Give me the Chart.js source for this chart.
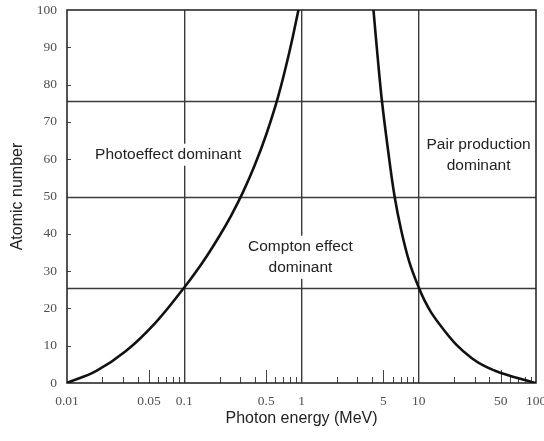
<!DOCTYPE html>
<html>
<head>
<meta charset="utf-8">
<script src="https://cdn.jsdelivr.net/npm/chart.js@4/dist/chart.umd.min.js"></script>
<style>
  html, body { margin: 0; padding: 0; background: #fff; }
  #wrap { width: 544px; height: 441px; position: relative; }
</style>
</head>
<body>
<div id="wrap"><canvas id="c"></canvas></div>
<script>
// photon energy (MeV) vs atomic number
const photoComptonE = [0.01, 0.0178, 0.0316, 0.0562, 0.1, 0.1259, 0.1585, 0.1995, 0.2512, 0.3162, 0.3981, 0.5012, 0.631, 0.7943, 0.942];
const photoComptonZ = [0, 3.25, 8.5, 16, 25.6, 29.8, 34.4, 39.4, 44.9, 51.1, 58.3, 66.7, 76.7, 89.2, 100];
const comptonPairE = [4.11, 4.467, 4.853, 5.495, 6.223, 7.079, 8.318, 10, 11.22, 12.82, 15.85, 20.89, 28.18, 35.48, 44.67, 56.23, 75.86, 100];
const comptonPairZ = [100, 87.2, 75.6, 62, 50, 41, 32.4, 25.6, 22.1, 18.8, 14.8, 10.3, 6.7, 4.7, 3.3, 2.2, 1.0, 0];

const xTicks = [0.01, 0.05, 0.1, 0.5, 1, 5, 10, 50, 100];
const xTickLabels = ['0.01', '0.05', '0.1', '0.5', '1', '5', '10', '50', '100'];
const xGridAt = [0.1, 1, 10];
const zLines = [25.6, 50, 75.6];

const regionLabels = [
  { lines: ['Photoeffect dominant'], e: 0.073, z: 61.2 },
  { lines: ['Compton effect', 'dominant'], e: 0.98, z: 33.7 },
  { lines: ['Pair production', 'dominant'], e: 32.4, z: 61 },
];

const toPoints = (xs, ys) => xs.map((x, i) => ({ x, y: ys[i] }));

// frame, boundary lines, inside ticks and region text
const overlay = {
  id: 'overlay',
  beforeDatasetsDraw(chart) {
    const { ctx, chartArea: a, scales: { x, y } } = chart;
    ctx.save();
    ctx.strokeStyle = '#3a3a3a';
    ctx.lineWidth = 1.4;
    zLines.forEach(z => {
      const py = Math.round(y.getPixelForValue(z)) + 0.5;
      ctx.beginPath(); ctx.moveTo(a.left, py); ctx.lineTo(a.right, py); ctx.stroke();
    });
    // minor ticks along the bottom, pointing up
    ctx.lineWidth = 1;
    ctx.strokeStyle = '#444';
    for (let d = -2; d < 2; d++) {
      for (let m = 2; m <= 9; m++) {
        const v = m * Math.pow(10, d);
        const px = Math.round(x.getPixelForValue(v)) + 0.5;
        const len = m === 5 ? 13 : 6;
        ctx.beginPath(); ctx.moveTo(px, a.bottom); ctx.lineTo(px, a.bottom - len); ctx.stroke();
      }
    }
    // left ticks pointing right
    for (let z = 10; z < 100; z += 10) {
      const py = Math.round(y.getPixelForValue(z)) + 0.5;
      ctx.beginPath(); ctx.moveTo(a.left, py); ctx.lineTo(a.left + 4, py); ctx.stroke();
    }
    // frame
    ctx.strokeStyle = '#2a2a2a';
    ctx.lineWidth = 1.6;
    ctx.strokeRect(a.left, a.top, a.right - a.left, a.bottom - a.top);
    // text on white patches (they break the grid lines, as in the print)
    ctx.font = '15.5px "Liberation Sans", Arial, sans-serif';
    ctx.textAlign = 'center';
    ctx.textBaseline = 'middle';
    regionLabels.forEach(l => {
      const px = x.getPixelForValue(l.e);
      const py = y.getPixelForValue(l.z);
      const lh = 21;
      const y0 = py - (l.lines.length - 1) * lh / 2;
      l.lines.forEach((t, i) => {
        const w = ctx.measureText(t).width;
        ctx.fillStyle = '#fff';
        ctx.fillRect(px - w / 2 - 3, y0 + i * lh - 11, w + 6, 22);
      });
      ctx.fillStyle = '#222';
      l.lines.forEach((t, i) => ctx.fillText(t, px, y0 + i * lh));
    });
    ctx.restore();
  }
};

new Chart(document.getElementById('c'), {
  type: 'scatter',
  data: {
    datasets: [
      { data: toPoints(photoComptonE, photoComptonZ) },
      { data: toPoints(comptonPairE, comptonPairZ) },
    ].map(ds => ({
      ...ds,
      showLine: true,
      borderColor: '#111',
      borderWidth: 2.6,
      pointRadius: 0,
      tension: 0.4,
    }))
  },
  options: {
    responsive: true,
    maintainAspectRatio: false,
    animation: false,
    layout: { padding: { top: 10, right: 8, left: 0, bottom: 0 } },
    plugins: { legend: { display: false }, tooltip: { enabled: false } },
    scales: {
      x: {
        type: 'logarithmic',
        min: 0.01,
        max: 100,
        afterBuildTicks: s => { s.ticks = xTicks.map(v => ({ value: v })); },
        afterFit: s => { s.height = 58; s.paddingLeft = 0; s.paddingRight = 0; },
        border: { display: false },
        grid: {
          drawTicks: false,
          lineWidth: 1.4,
          color: c => xGridAt.includes(c.tick && c.tick.value) ? '#3a3a3a' : 'rgba(0,0,0,0)',
        },
        ticks: {
          autoSkip: false,
          maxRotation: 0,
          padding: 10,
          color: '#505050',
          font: { family: '"Liberation Serif", "Times New Roman", serif', size: 13.5 },
          callback: (v) => {
            const i = xTicks.indexOf(v);
            return i >= 0 ? xTickLabels[i] : '';
          }
        },
        title: {
          display: true,
          text: 'Photon energy (MeV)',
          color: '#222',
          padding: { top: 0, bottom: 13 },
          font: { family: '"Liberation Sans", Arial, sans-serif', size: 16 }
        }
      },
      y: {
        min: 0,
        max: 100,
        afterFit: s => { s.width = 67; s.paddingTop = 0; s.paddingBottom = 0; },
        border: { display: false },
        grid: { display: false, drawTicks: false },
        ticks: {
          stepSize: 10,
          padding: 10,
          color: '#505050',
          font: { family: '"Liberation Serif", "Times New Roman", serif', size: 13.5 }
        },
        title: {
          display: true,
          text: 'Atomic number',
          color: '#222',
          padding: { top: 8, bottom: 0 },
          font: { family: '"Liberation Sans", Arial, sans-serif', size: 16 }
        }
      }
    }
  },
  plugins: [overlay]
});
</script>
</body>
</html>
